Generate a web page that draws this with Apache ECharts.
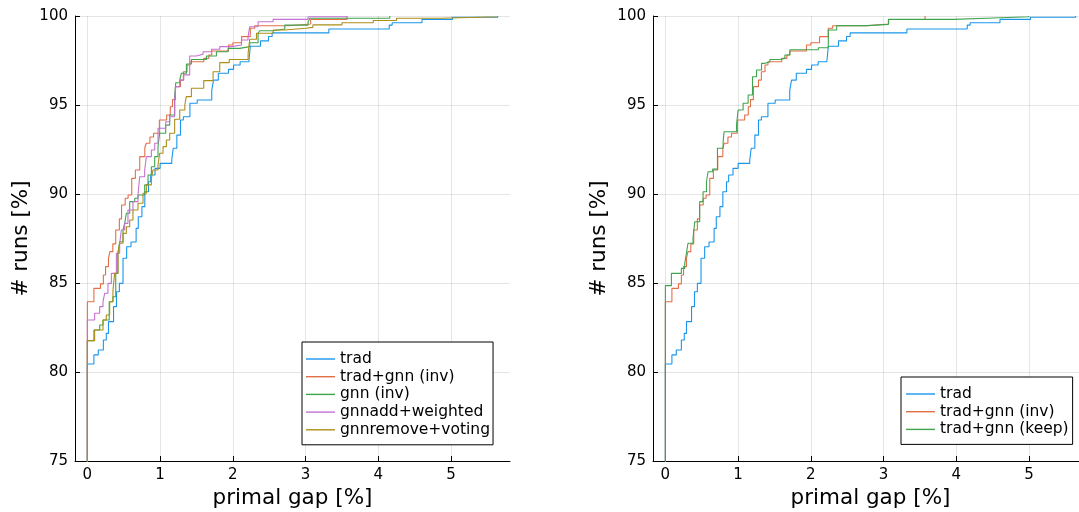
<!DOCTYPE html>
<html>
<head>
<meta charset="utf-8">
<script src="https://cdn.jsdelivr.net/npm/echarts@6/dist/echarts.min.js"></script>
<style>
  html, body { margin: 0; padding: 0; background: #fff; }
  #chart { width: 1079px; height: 512px; }
</style>
</head>
<body>
<div id="chart"></div>
<script>
// Cumulative share of runs (%) reaching a given primal gap (%): [gap, runs]
const xTicks = [0, 1, 2, 3, 4, 5];
const yTicks = [75, 80, 85, 90, 95, 100];

const trad = [[0,0],[0,80.45],[0.09,80.96],[0.15,81.24],[0.22,81.8],[0.26,82.17],[0.29,82.83],[0.36,83.67],[0.40,84.51],[0.44,84.98],[0.49,86.39],[0.54,87.04],[0.6,87.3],[0.67,88.07],[0.70,88.72],[0.75,89.29],[0.79,90.13],[0.84,90.69],[0.87,91.07],[0.93,91.44],[1.0,91.72],[1.16,91.91],[1.18,92.57],[1.23,93.31],[1.28,94.16],[1.32,94.34],[1.41,95.1],[1.51,95.28],[1.71,95.84],[1.735,96.4],[1.8,96.78],[1.94,97.0],[2.01,97.25],[2.1,97.43],[2.22,97.53],[2.24,98.3],[2.38,98.6],[2.49,98.85],[2.54,99.05],[3.32,99.27],[4.15,99.49],[4.19,99.62],[4.6,99.81],[5.02,99.93],[5.64,100]];

const tradGnnInv = [[0,0],[0,83.95],[0.09,84.7],[0.18,84.95],[0.22,85.45],[0.25,85.92],[0.29,86.39],[0.31,86.76],[0.35,87.2],[0.39,87.98],[0.44,88.6],[0.47,89.38],[0.52,89.76],[0.56,89.94],[0.61,90.88],[0.66,91.35],[0.72,92.1],[0.79,92.6],[0.81,92.85],[0.86,93.2],[0.91,93.41],[0.99,94.16],[1.09,94.44],[1.14,94.9],[1.17,95.3],[1.21,96.03],[1.28,96.4],[1.32,96.87],[1.37,97.25],[1.41,97.43],[1.6,97.62],[1.67,97.81],[1.71,98.03],[1.94,98.37],[2.0,98.5],[2.12,98.84],[2.24,99.31],[2.3,99.45],[2.77,99.55],[3.07,99.8],[3.57,100]];

const gnnInv = [[0,0],[0,81.76],[0.09,82.36],[0.17,82.64],[0.215,82.92],[0.3,83.95],[0.35,84.23],[0.39,85.54],[0.42,86.67],[0.444,87.32],[0.49,87.98],[0.513,88.35],[0.536,88.92],[0.582,89.57],[0.651,89.76],[0.696,89.94],[0.788,90.51],[0.834,91.07],[0.88,91.53],[0.926,92.1],[0.971,92.66],[0.994,93.41],[1.077,93.87],[1.132,94.44],[1.2,95.47],[1.215,96.25],[1.27,96.4],[1.292,96.78],[1.362,97.3],[1.43,97.56],[1.637,97.75],[1.774,97.99],[1.934,98.18],[2.095,98.28],[2.232,98.5],[2.347,99.03],[2.37,99.17],[2.553,99.27],[2.714,99.49],[3.034,99.68],[3.058,99.87],[4.158,100]];

const gnnaddWeighted = [[0,0],[0,82.92],[0.1,83.3],[0.169,83.67],[0.215,83.95],[0.238,84.42],[0.283,84.98],[0.33,85.54],[0.399,86.67],[0.444,87.23],[0.468,87.98],[0.513,88.35],[0.558,89.1],[0.627,89.57],[0.696,89.94],[0.719,90.97],[0.788,91.35],[0.811,92.1],[0.88,92.47],[0.926,92.85],[0.971,93.69],[1.077,94.06],[1.132,94.34],[1.2,95.28],[1.215,96.03],[1.27,96.4],[1.325,96.69],[1.407,97.75],[1.499,97.85],[1.59,97.99],[1.706,98.13],[1.82,98.28],[1.981,98.37],[2.118,98.65],[2.209,98.84],[2.232,99.4],[2.347,99.68],[2.553,99.81],[3.034,99.96],[3.563,100]];

const gnnremoveVoting = [[0,0],[0,81.76],[0.1,82.36],[0.215,82.92],[0.26,83.2],[0.307,83.95],[0.352,84.6],[0.375,85.54],[0.421,86.67],[0.444,87.23],[0.49,87.79],[0.536,88.16],[0.582,88.54],[0.627,89.1],[0.696,89.48],[0.765,90.04],[0.811,90.51],[0.88,90.88],[0.902,91.35],[0.971,91.63],[0.994,92.29],[1.04,92.66],[1.086,93.03],[1.132,93.41],[1.2,94.2],[1.27,94.72],[1.34,95.0],[1.36,95.47],[1.43,95.94],[1.6,96.37],[1.728,96.87],[1.82,97.38],[1.95,97.56],[2.21,97.9],[2.232,98.69],[2.325,99.03],[2.553,99.21],[2.714,99.31],[3.0,99.36],[3.1,99.5],[3.5,99.62],[3.93,99.75],[4.25,99.87],[4.85,99.96],[5.64,100]];

const tradGnnKeep = [[0,0],[0,84.85],[0.083,85.54],[0.22,85.82],[0.266,86.1],[0.289,86.67],[0.311,87.23],[0.38,87.51],[0.404,88.44],[0.472,89.57],[0.518,90.13],[0.565,90.69],[0.587,91.25],[0.65,91.4],[0.716,92.57],[0.794,92.94],[0.807,93.5],[0.978,93.87],[1.0,94.72],[1.069,95.1],[1.138,95.56],[1.198,96.59],[1.253,96.97],[1.322,97.34],[1.368,97.43],[1.437,97.56],[1.574,97.62],[1.643,97.81],[1.712,98.1],[2.102,98.22],[2.24,99.21],[2.355,99.46],[2.77,99.53],[3.066,99.81],[3.96,99.89],[4.51,99.96],[4.995,100]];

const COLORS = {
  blue: '#1996ec', orange: '#E36F47', green: '#3EA44E', purple: '#C371D2', gold: '#AC8E18'
};
const FONT = 'DejaVu Sans';

function xAxisFor(gridIndex) {
  return {
    type: 'value', gridIndex: gridIndex, min: -0.17, max: 5.81,
    name: 'primal gap [%]', nameLocation: 'middle', nameGap: 25,
    nameTextStyle: { fontFamily: FONT, fontSize: 21.5, color: '#000' },
    axisLine: { show: true, onZero: false, lineStyle: { color: '#000', width: 1 } },
    axisTick: { show: true, inside: true, length: 5, customValues: xTicks, lineStyle: { color: '#000' } },
    axisLabel: { customValues: xTicks, fontFamily: FONT, fontSize: 15, color: '#000', margin: 7 },
    splitLine: { show: true, lineStyle: { color: 'rgba(0,0,0,0.1)', width: 1 } }
  };
}
function yAxisFor(gridIndex) {
  return {
    type: 'value', gridIndex: gridIndex, min: 75, max: 100, interval: 5,
    name: '# runs [%]', nameLocation: 'middle', nameGap: 43, nameRotate: 90,
    nameTextStyle: { fontFamily: FONT, fontSize: 21.5, color: '#000' },
    axisLine: { show: true, onZero: false, lineStyle: { color: '#000', width: 1 } },
    axisTick: { show: true, inside: true, length: 5, lineStyle: { color: '#000' } },
    axisLabel: { fontFamily: FONT, fontSize: 15, color: '#000', margin: 7 },
    splitLine: { show: true, lineStyle: { color: 'rgba(0,0,0,0.1)', width: 1 } }
  };
}
function stepSeries(name, data, color, idx) {
  return {
    name: name, type: 'line', step: 'end', data: data,
    xAxisIndex: idx, yAxisIndex: idx, symbol: 'none', clip: true,
    color: color, lineStyle: { color: color, width: 1.1 }
  };
}
function legendFor(names, pos) {
  return Object.assign({
    orient: 'vertical', data: names, icon: 'rect', itemWidth: 29, itemHeight: 1.4,
    itemGap: 1.7, borderColor: '#000', borderWidth: 1, backgroundColor: '#fff',
    borderRadius: 0, selectedMode: false,
    textStyle: { fontFamily: FONT, fontSize: 15.5, color: '#000', lineHeight: 16 }
  }, pos);
}

const chart = echarts.init(document.getElementById('chart'), null, { renderer: 'canvas' });
chart.setOption({
  animation: false,
  backgroundColor: '#fff',
  grid: [
    { left: 75, top: 16, width: 435, height: 445, containLabel: false, outerBoundsMode: 'none' },
    { left: 653, top: 16, width: 435, height: 445, containLabel: false, outerBoundsMode: 'none' }
  ],
  xAxis: [xAxisFor(0), xAxisFor(1)],
  yAxis: [yAxisFor(0), yAxisFor(1)],
  legend: [
    legendFor(['trad', 'trad+gnn (inv)', 'gnn (inv)', 'gnnadd+weighted', 'gnnremove+voting'],
      { left: 302, top: 342, padding: [9, 3, 7, 4] }),
    legendFor(['trad', 'trad+gnn (inv)', 'trad+gnn (keep)'],
      { left: 901, top: 377, padding: [9, 4, 7, 5] })
  ],
  series: [
    stepSeries('trad', trad, COLORS.blue, 0),
    stepSeries('trad+gnn (inv)', tradGnnInv, COLORS.orange, 0),
    stepSeries('gnn (inv)', gnnInv, COLORS.green, 0),
    stepSeries('gnnadd+weighted', gnnaddWeighted, COLORS.purple, 0),
    stepSeries('gnnremove+voting', gnnremoveVoting, COLORS.gold, 0),
    stepSeries('trad', trad, COLORS.blue, 1),
    stepSeries('trad+gnn (inv)', tradGnnInv, COLORS.orange, 1),
    stepSeries('trad+gnn (keep)', tradGnnKeep, COLORS.green, 1)
  ]
});
</script>
</body>
</html>
